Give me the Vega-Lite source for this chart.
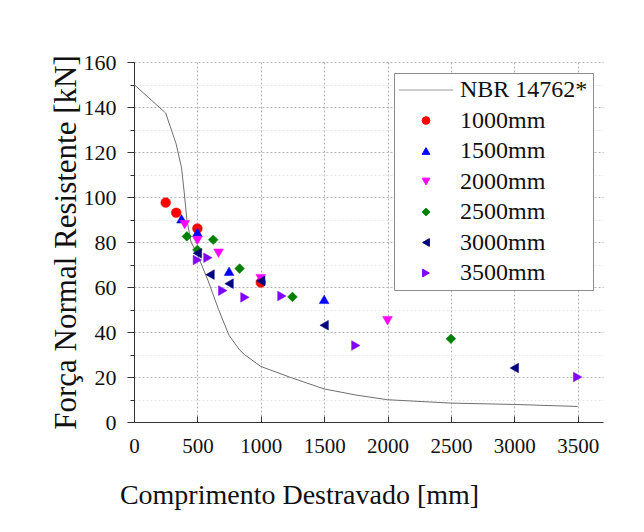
{
  "$schema": "https://vega.github.io/schema/vega-lite/v6.json",
  "width": 469,
  "height": 360,
  "autosize": {"type": "none"},
  "padding": {"left": 134, "top": 62, "right": 41, "bottom": 110},
  "background": "white",
  "config": {
    "view": {"stroke": null},
    "font": "Liberation Serif",
    "axis": {
      "domainColor": "#333333",
      "tickColor": "#333333",
      "labelColor": "#111111",
      "titleColor": "#111111",
      "labelFont": "Liberation Serif",
      "titleFont": "Liberation Serif",
      "titleFontWeight": "normal"
    }
  },
  "datasets": {
    "nbr": [
      {"L": 0, "N": 150.0},
      {"L": 250, "N": 137.3},
      {"L": 333, "N": 123.5},
      {"L": 375, "N": 113.0},
      {"L": 400, "N": 100.0},
      {"L": 417, "N": 90.0},
      {"L": 450, "N": 80.0},
      {"L": 500, "N": 74.5},
      {"L": 583, "N": 63.0},
      {"L": 667, "N": 50.0},
      {"L": 750, "N": 38.5},
      {"L": 833, "N": 32.0},
      {"L": 875, "N": 29.8},
      {"L": 1000, "N": 24.7},
      {"L": 1250, "N": 19.5},
      {"L": 1500, "N": 14.7},
      {"L": 1750, "N": 12.0},
      {"L": 2000, "N": 9.9},
      {"L": 2500, "N": 8.4},
      {"L": 3000, "N": 7.8},
      {"L": 3500, "N": 6.9}
    ],
    "tests": [
      {"L": 250, "N": 97.5, "serie": "1000mm"},
      {"L": 333, "N": 93.0, "serie": "1000mm"},
      {"L": 500, "N": 86.0, "serie": "1000mm"},
      {"L": 1000, "N": 62.0, "serie": "1000mm"},
      {"L": 375, "N": 90.3, "serie": "1500mm"},
      {"L": 500, "N": 84.3, "serie": "1500mm"},
      {"L": 750, "N": 67.0, "serie": "1500mm"},
      {"L": 1500, "N": 54.5, "serie": "1500mm"},
      {"L": 400, "N": 87.7, "serie": "2000mm"},
      {"L": 500, "N": 80.7, "serie": "2000mm"},
      {"L": 667, "N": 75.0, "serie": "2000mm"},
      {"L": 1000, "N": 63.7, "serie": "2000mm"},
      {"L": 2000, "N": 45.0, "serie": "2000mm"},
      {"L": 417, "N": 82.5, "serie": "2500mm"},
      {"L": 500, "N": 76.5, "serie": "2500mm"},
      {"L": 625, "N": 81.0, "serie": "2500mm"},
      {"L": 833, "N": 68.2, "serie": "2500mm"},
      {"L": 1250, "N": 55.6, "serie": "2500mm"},
      {"L": 2500, "N": 37.0, "serie": "2500mm"},
      {"L": 500, "N": 75.0, "serie": "3000mm"},
      {"L": 600, "N": 65.5, "serie": "3000mm"},
      {"L": 750, "N": 61.5, "serie": "3000mm"},
      {"L": 1000, "N": 62.7, "serie": "3000mm"},
      {"L": 1500, "N": 43.0, "serie": "3000mm"},
      {"L": 3000, "N": 24.0, "serie": "3000mm"},
      {"L": 500, "N": 72.0, "serie": "3500mm"},
      {"L": 583, "N": 73.0, "serie": "3500mm"},
      {"L": 700, "N": 58.4, "serie": "3500mm"},
      {"L": 875, "N": 55.4, "serie": "3500mm"},
      {"L": 1167, "N": 56.0, "serie": "3500mm"},
      {"L": 1750, "N": 34.0, "serie": "3500mm"},
      {"L": 3500, "N": 20.0, "serie": "3500mm"}
    ]
  },
  "encoding": {
    "x": {
      "field": "L",
      "type": "quantitative",
      "scale": {"domain": [0, 3700], "nice": false, "zero": true},
      "axis": {
        "title": "Comprimento Destravado [mm]",
        "values": [0, 500, 1000, 1500, 2000, 2500, 3000, 3500],
        "format": "d",
        "labelFont": "Liberation Serif",
        "labelFontSize": 21,
        "labelPadding": 19,
        "labelFlush": false,
        "tickSize": -6,
        "grid": true,
        "gridColor": "#b5b5b5",
        "gridDash": [2, 2],
        "gridWidth": 1,
        "titleFont": "Liberation Serif",
        "titleFontSize": 28,
        "titleAnchor": "start",
        "titleAlign": "center",
        "titleBaseline": "alphabetic",
        "titleX": 165,
        "titleY": 81
      }
    },
    "y": {
      "field": "N",
      "type": "quantitative",
      "scale": {"domain": [0, 160], "nice": false},
      "axis": {
        "title": "Força Normal Resistente [kN]",
        "values": [0, 10, 20, 30, 40, 50, 60, 70, 80, 90, 100, 110, 120, 130, 140, 150, 160],
        "labelExpr": "datum.value % 20 === 0 ? datum.label : ''",
        "labelFont": "Liberation Serif",
        "labelFontSize": 22,
        "labelPadding": 11,
        "tickSize": {"condition": {"test": "datum.value % 20 === 0", "value": 7}, "value": 4},
        "grid": true,
        "gridColor": {"condition": {"test": "datum.value % 20 === 0", "value": "#b5b5b5"}, "value": "#e6e6e6"},
        "gridDash": [2, 2],
        "gridWidth": 1,
        "titleFont": "Liberation Serif",
        "titleFontSize": 31,
        "titleAngle": -90,
        "titleAlign": "center",
        "titleBaseline": "alphabetic",
        "titleX": -59,
        "titleY": 180
      }
    }
  },
  "layer": [
    {
      "data": {"name": "nbr"},
      "mark": {"type": "line", "color": "#6f6f6f", "strokeWidth": 1}
    },
    {
      "data": {"name": "tests"},
      "mark": {"type": "point", "size": 95, "opacity": 1, "strokeWidth": 0.5},
      "encoding": {
        "fill": {
          "field": "serie",
          "type": "nominal",
          "scale": {
            "domain": ["NBR 14762*", "1000mm", "1500mm", "2000mm", "2500mm", "3000mm", "3500mm"],
            "range": ["#9a9a9a", "#ff0000", "#0000ff", "#ff00ff", "#008000", "#000080", "#8000ff"]
          },
          "legend": {
            "title": null,
            "orient": "none",
            "legendX": 260,
            "legendY": 11,
            "padding": 5,
            "fillColor": "white",
            "strokeColor": "#8c8c8c",
            "labelFont": "Liberation Serif",
            "labelFontSize": 24,
            "labelColor": "#111111",
            "labelOffset": 22,
            "symbolOffset": 15,
            "rowPadding": 6.5,
            "symbolSize": 60,
            "symbolStrokeWidth": 1
          }
        },
        "stroke": {
          "field": "serie",
          "type": "nominal",
          "scale": {
            "domain": ["NBR 14762*", "1000mm", "1500mm", "2000mm", "2500mm", "3000mm", "3500mm"],
            "range": ["#9a9a9a", "#ff0000", "#0000ff", "#ff00ff", "#008000", "#000080", "#8000ff"]
          }
        },
        "shape": {
          "field": "serie",
          "type": "nominal",
          "scale": {
            "domain": ["NBR 14762*", "1000mm", "1500mm", "2000mm", "2500mm", "3000mm", "3500mm"],
            "range": ["M-7,0H7", "circle", "triangle-up", "triangle-down", "diamond", "triangle-left", "triangle-right"]
          }
        }
      }
    }
  ]
}
